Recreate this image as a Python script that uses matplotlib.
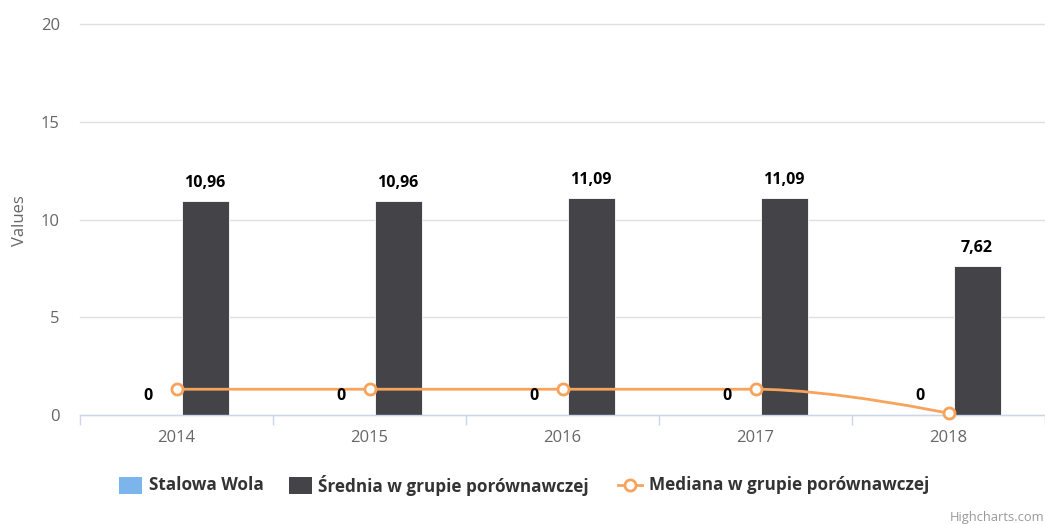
import matplotlib
matplotlib.use('Agg')
import matplotlib.pyplot as plt
from matplotlib.path import Path
from matplotlib.patches import PathPatch, Rectangle
from matplotlib.lines import Line2D

# ---- data ----
years = ['2014', '2015', '2016', '2017', '2018']
series_names = ['Stalowa Wola', 'Średnia w grupie porównawczej', 'Mediana w grupie porównawczej']
stalowa_wola = [0, 0, 0, 0, 0]
srednia = [10.96, 10.96, 11.09, 11.09, 7.62]
mediana = [1.32, 1.32, 1.32, 1.32, 0.09]
y_ticks = [0, 5, 10, 15, 20]

# ---- style ----
FONT = ['Open Sans', 'DejaVu Sans']
plt.rcParams['font.family'] = FONT
C_BLUE = '#7cb5ec'
C_DARK = '#434348'
C_ORANGE = '#f7a35c'

W, H = 1045, 524
fig = plt.figure(figsize=(W / 100, H / 100), dpi=100)
L, R, T, B = 80, 1045, 24.5, 415
ax = fig.add_axes([L / W, 1 - B / H, (R - L) / W, (B - T) / H])


def fx(px):
    return px / W


def fy(py):
    return 1 - py / H


xs = list(range(len(years)))
bw = 0.243
off = 0.148

ax.bar([x - off for x in xs], stalowa_wola, width=bw, color=C_BLUE, edgecolor='white', linewidth=0.6, zorder=2)
ax.bar([x + off for x in xs], srednia, width=bw, color=C_DARK, edgecolor='white', linewidth=0.6, zorder=2)


def fmt(v):
    s = ('%.2f' % v).rstrip('0').rstrip('.')
    return s.replace('.', ',')


for x, v in zip(xs, stalowa_wola):
    ax.annotate(fmt(v), (x - off, v), xytext=(0, 7.8), textcoords='offset points',
                ha='center', va='bottom', fontsize=11.5, fontweight='bold', color='black', zorder=5)
for x, v in zip(xs, srednia):
    ax.annotate(fmt(v), (x + off, v), xytext=(0, 7.3), textcoords='offset points',
                ha='center', va='bottom', fontsize=11.5, fontweight='bold', color='black', zorder=5)


def spline_path(px, py, smoothing=1.5):
    n = len(px)
    lc = [None] * n
    rc = [None] * n
    d = smoothing + 1
    for i in range(1, n - 1):
        x0, y0 = px[i], py[i]
        lx, ly = px[i - 1], py[i - 1]
        nx, ny = px[i + 1], py[i + 1]
        lcx = (smoothing * x0 + lx) / d
        lcy = (smoothing * y0 + ly) / d
        rcx = (smoothing * x0 + nx) / d
        rcy = (smoothing * y0 + ny) / d
        corr = ((rcy - lcy) * (rcx - x0)) / (rcx - lcx) + y0 - rcy
        lcy += corr
        rcy += corr
        if lcy > ly and lcy > y0:
            lcy = max(ly, y0); rcy = 2 * y0 - lcy
        elif lcy < ly and lcy < y0:
            lcy = min(ly, y0); rcy = 2 * y0 - lcy
        if rcy > ny and rcy > y0:
            rcy = max(ny, y0); lcy = 2 * y0 - rcy
        elif rcy < ny and rcy < y0:
            rcy = min(ny, y0); lcy = 2 * y0 - rcy
        lc[i] = (lcx, lcy)
        rc[i] = (rcx, rcy)
    verts = [(px[0], py[0])]
    codes = [Path.MOVETO]
    for i in range(1, n):
        c1 = rc[i - 1] if rc[i - 1] is not None else (px[i - 1], py[i - 1])
        c2 = lc[i] if lc[i] is not None else (px[i], py[i])
        verts += [c1, c2, (px[i], py[i])]
        codes += [Path.CURVE4] * 3
    return Path(verts, codes)


ax.add_patch(PathPatch(spline_path(xs, mediana), facecolor='none', edgecolor=C_ORANGE,
                       linewidth=2.0, zorder=3, capstyle='round', joinstyle='round'))
ax.plot(xs, mediana, linestyle='none', marker='o', markersize=8, markerfacecolor='white',
        markeredgecolor=C_ORANGE, markeredgewidth=2, zorder=4, clip_on=False)

ax.set_xlim(-0.5, len(years) - 0.5)
ax.set_ylim(0, 20)
ax.set_yticks(y_ticks)
ax.set_yticklabels([str(t) for t in y_ticks])
ax.set_xticks(xs)
ax.set_xticklabels(years)
ax.set_xticks([x - 0.5 for x in range(len(years) + 1)], minor=True)
ax.tick_params(axis='x', which='major', length=0, pad=11, labelsize=12, labelcolor='#666666')
ax.tick_params(axis='x', which='minor', length=7.2, width=1, color='#ccd6eb')
ax.tick_params(axis='y', length=0, pad=14.5, labelsize=12, labelcolor='#666666')
ax.yaxis.grid(True, color='#e0e0e0', linewidth=1)
for gl in ax.get_ygridlines():
    gl.set_clip_on(False)
ax.set_axisbelow(True)
for s in ['top', 'right', 'left']:
    ax.spines[s].set_visible(False)
ax.spines['bottom'].set_color('#ccd6eb')
ax.spines['bottom'].set_linewidth(1)

fig.text(fx(19.5), fy(221), 'Values', rotation=90, ha='center', va='center',
         fontsize=12, color='#666666')

# ---- legend ----
leg_y = 485.5
LFS = 12.3
fig.add_artist(Rectangle((fx(119), fy(494)), (142 - 119) / W, 17 / H, transform=fig.transFigure,
                         facecolor=C_BLUE, edgecolor='none'))
fig.text(fx(149), fy(leg_y), series_names[0], ha='left', va='center', fontsize=LFS,
         fontweight='bold', color='#333333')
fig.add_artist(Rectangle((fx(289), fy(494)), (312 - 289) / W, 17 / H, transform=fig.transFigure,
                         facecolor=C_DARK, edgecolor='none'))
fig.text(fx(318), fy(leg_y), series_names[1], ha='left', va='center', fontsize=LFS,
         fontweight='bold', color='#333333')
fig.add_artist(Line2D([fx(618), fx(642)], [fy(485), fy(485)], transform=fig.transFigure,
                      color=C_ORANGE, linewidth=2))
fig.add_artist(Line2D([fx(630)], [fy(485)], transform=fig.transFigure, linestyle='none',
                      marker='o', markersize=8, markerfacecolor='white',
                      markeredgecolor=C_ORANGE, markeredgewidth=2))
fig.text(fx(649), fy(leg_y), series_names[2], ha='left', va='center', fontsize=LFS,
         fontweight='bold', color='#333333')

fig.text(fx(1044), fy(517), 'Highcharts.com', ha='right', va='center', fontsize=9.3, color='#999999')

fig.savefig('out.png', dpi=100)
